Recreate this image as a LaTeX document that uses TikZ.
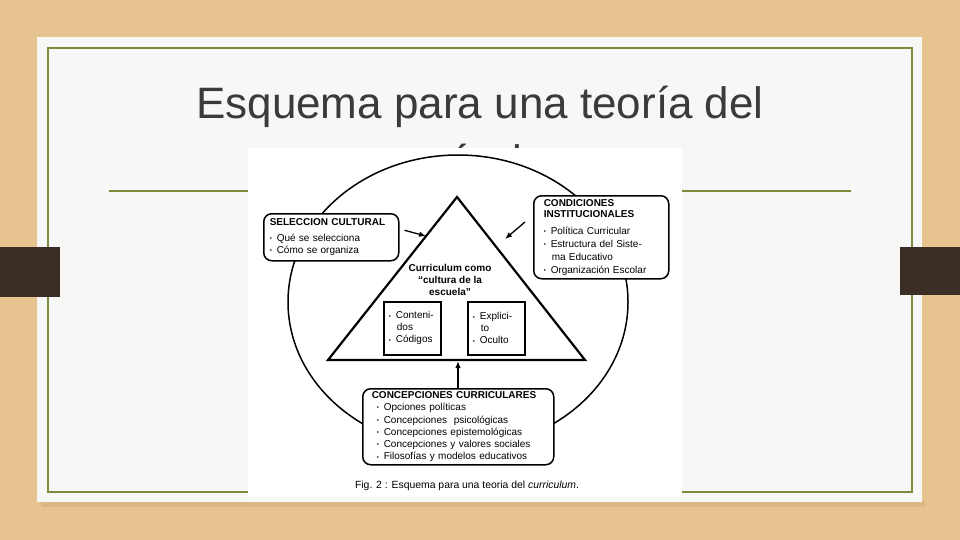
\documentclass[tikz,border=0pt]{standalone}
\usepackage{fontspec}
\setmainfont{Liberation Sans}
\usetikzlibrary{arrows.meta,calc}
\definecolor{wood}{HTML}{E7C48F}
\definecolor{slide}{HTML}{F7F7F6}
\definecolor{olive}{HTML}{7C8A3E}
\definecolor{tabbrown}{HTML}{3B2E27}
\definecolor{titlegray}{HTML}{3A3A3A}
\newcommand\mybul{\makebox[7pt][l]{\raisebox{0.8pt}{\fontsize{6}{6}\selectfont\textbullet}}}
\begin{document}
\begin{tikzpicture}[x=1pt,y=-1pt,
  titletext/.style={font=\fontsize{44}{50}\selectfont, text=titlegray, inner sep=0pt},
  rbox/.style={draw=black, line width=1.5pt, rounded corners=8pt, fill=white, inner ysep=0pt, align=left, anchor=north west, font=\fontsize{10}{12.5}\selectfont},
  ibox/.style={draw=black, line width=1.8pt, fill=white, inner ysep=0pt, inner xsep=5pt, align=left, anchor=north west, minimum width=57pt, minimum height=53pt, text width=47pt, font=\fontsize{10}{12}\selectfont},
  arr/.style={-{Latex[length=7pt,width=5.5pt]}, line width=1.3pt},
  scanline/.style={draw=black, line width=1.5pt}
]
\useasboundingbox (0,0) rectangle (960,540);
% slide background
\fill[wood] (0,0) rectangle (960,540);
\fill[black, opacity=0.06] (41,500) rectangle (925,507);
\fill[slide] (37,37) rectangle (922,502);
\draw[olive, line width=2.5pt] (48,48) rectangle (912,492);
\fill[tabbrown] (0,247) rectangle (60,297);
\fill[tabbrown] (900,247) rectangle (960,295);
\draw[olive, line width=2pt] (109,191) -- (851,191);
\node[titletext, anchor=base] (t1) at (480,119) {Esquema para una teoría del};
\node[titletext, anchor=base] (t2) at (481,176) {currículum};
% scanned figure
\fill[white] (248,148) rectangle (682,497);
\draw[scanline] (458,302) ellipse [x radius=170pt, y radius=147pt];
\coordinate (apex) at (457,197);
\coordinate (bl) at (328,360);
\coordinate (br) at (585,360);
\draw[line width=2.2pt, fill=white] (apex) -- (bl) -- (br) -- cycle;
\node[font=\bfseries\fontsize{10}{12}\selectfont, align=center, inner sep=0pt] (tri) at (450,280) {Curriculum como\\``cultura de la\\escuela''};
\node[ibox] (cont) at (383,301) {\mybul Conteni-\\\hspace*{8pt}dos\\\mybul Códigos};
\node[ibox] (expl) at (467,301) {\mybul Explici-\\\hspace*{8pt}to\\\mybul Oculto};
\node[rbox, minimum width=135pt, minimum height=47pt, text width=123pt, inner xsep=6pt] (sel) at (263,213)
  {\textbf{SELECCION CULTURAL}\\[3pt]\mybul Qué se selecciona\\\mybul Cómo se organiza};
\node[rbox, minimum width=135pt, minimum height=83pt, text width=115pt, inner xsep=10pt, font=\fontsize{10}{13}\selectfont] (cond) at (533,195)
  {\textbf{CONDICIONES}\\[-1.5pt]\textbf{INSTITUCIONALES}\\[3.5pt]\mybul Política Curricular\\\mybul Estructura del Siste-\\\hspace*{8pt}ma Educativo\\\mybul Organización Escolar};
\node[rbox, minimum width=191pt, minimum height=76pt, text width=173pt, inner xsep=9pt, font=\fontsize{10}{12.3}\selectfont] (conc) at (362,388)
  {\textbf{CONCEPCIONES CURRICULARES}\\\hspace*{5pt}\mybul Opciones políticas\\\hspace*{5pt}\mybul Concepciones\ \ psicológicas\\\hspace*{5pt}\mybul Concepciones epistemológicas\\\hspace*{5pt}\mybul Concepciones y valores sociales\\\hspace*{5pt}\mybul Filosofías y modelos educativos};
% arrows
\coordinate (tl) at ($(apex)!0.24!(bl)$);
\coordinate (base) at (458,361);
\coordinate (a2s) at (525,222);
\coordinate (a2e) at (505,239);
\draw[arr] ([xshift=5pt,yshift=7pt]sel.east) -- (tl);
\draw[arr] (a2s) -- (a2e);
\draw[arr] (conc.north -| base) -- (base);
% caption
\node[font=\fontsize{10.4}{12}\selectfont, inner sep=0pt] (cap) at (467,486) {Fig. 2 : Esquema para una teoria del \textit{curriculum}.};
\end{tikzpicture}
\end{document}
